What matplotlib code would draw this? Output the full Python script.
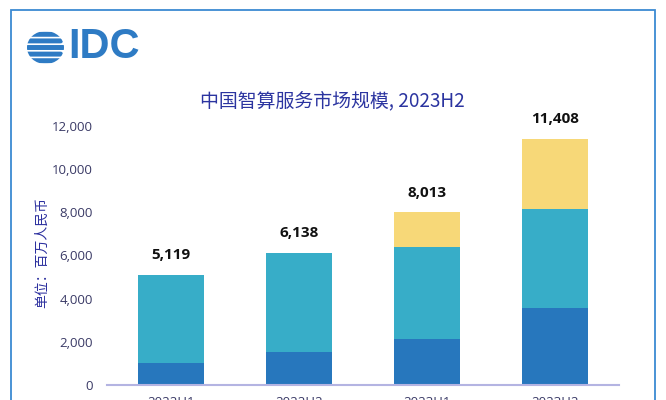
import matplotlib
matplotlib.use('Agg')
import matplotlib.pyplot as plt
import matplotlib.patches as mpatches
import numpy as np

plt.rcParams['font.family'] = ['Noto Sans CJK SC', 'DejaVu Sans']

# data (millions of RMB)
periods = ['2022H1', '2022H2', '2023H1', '2023H2']
seg_dark = [1000, 1540, 2110, 3570]
seg_teal = [4119, 4598, 4290, 4600]
seg_yellow = [0, 0, 1613, 3238]
totals = [5119, 6138, 8013, 11408]

colors = ['#2777BD', '#37ADC8', '#F7D878']
W, H = 666, 400

fig = plt.figure(figsize=(W / 100, H / 100), dpi=100)
fig.patch.set_facecolor('white')

# outer blue frame
fig.patches.append(mpatches.Rectangle((11 / W, -0.05), (655 - 11) / W, 1.05 - 10 / H,
                                      transform=fig.transFigure, fill=False,
                                      edgecolor='#3C8AD2', linewidth=1.3))

ax = fig.add_axes([107 / W, 1 - 385 / H, (619 - 107) / W, (385 - 126) / H])
x = np.arange(len(periods))
bw = 0.51
ax.bar(x, seg_dark, bw, color=colors[0])
ax.bar(x, seg_teal, bw, bottom=seg_dark, color=colors[1])
bottom2 = np.array(seg_dark) + np.array(seg_teal)
ax.bar(x, seg_yellow, bw, bottom=bottom2, color=colors[2])

for xi, t in zip(x, totals):
    ax.annotate(f'{t:,}', (xi, t), xytext=(0, 9), textcoords='offset points',
                ha='center', va='bottom', fontsize=11, fontweight='bold',
                family=['Open Sans', 'DejaVu Sans'], color='#111111',
                annotation_clip=False)

ax.set_xlim(-0.5, 3.5)
ax.set_ylim(0, 12000)
ax.set_yticks(range(0, 12001, 2000))
ax.set_yticklabels([f'{v:,}' for v in range(0, 12001, 2000)],
                   family=['Open Sans', 'DejaVu Sans'], fontsize=9.5, color='#3A3A66')
ax.set_xticks(x)
ax.set_xticklabels(periods, family=['Open Sans', 'DejaVu Sans'], fontsize=9.5, color='#3A3A66')
ax.tick_params(axis='y', length=0, pad=10)
ax.tick_params(axis='x', length=0, pad=8)
for s in ['top', 'right', 'left']:
    ax.spines[s].set_visible(False)
ax.spines['bottom'].set_color('#B4B4E2')
ax.spines['bottom'].set_linewidth(1.5)

fig.text(42 / W, 1 - 253 / H, '单位：百万人民币', rotation=90, ha='center', va='center',
         fontsize=10, color='#2B2F9E')

fig.text(332 / W, 1 - 101 / H, '中国智算服务市场规模, 2023H2', ha='center', va='center',
         fontsize=13.6, color='#2B34A0')

# IDC logo
logo_blue = '#2E7BC4'
fig.text(68 / W, 1 - 47 / H, 'IDC', ha='left', va='center', fontsize=30, fontweight='bold',
         family=['Liberation Sans', 'DejaVu Sans'], color=logo_blue)
lax = fig.add_axes([27 / W, 1 - 64 / H, 37 / W, 33 / H])
lax.set_xlim(-1, 1)
lax.set_ylim(-1, 1)
lax.axis('off')
clip = mpatches.Ellipse((0, 0), 2, 2, transform=lax.transData, facecolor='none', edgecolor='none')
lax.add_patch(clip)
for i, yc in enumerate(np.linspace(0.8, -0.8, 5)):
    off = -0.25 if i % 2 else 0.0
    r = mpatches.FancyBboxPatch((-1.2 + off, yc - 0.15), 2.4, 0.30,
                                boxstyle='round,pad=0,rounding_size=0.15',
                                facecolor=logo_blue, edgecolor='none')
    lax.add_patch(r)
    r.set_clip_path(clip)

fig.savefig('out.png', dpi=100, facecolor='white')
